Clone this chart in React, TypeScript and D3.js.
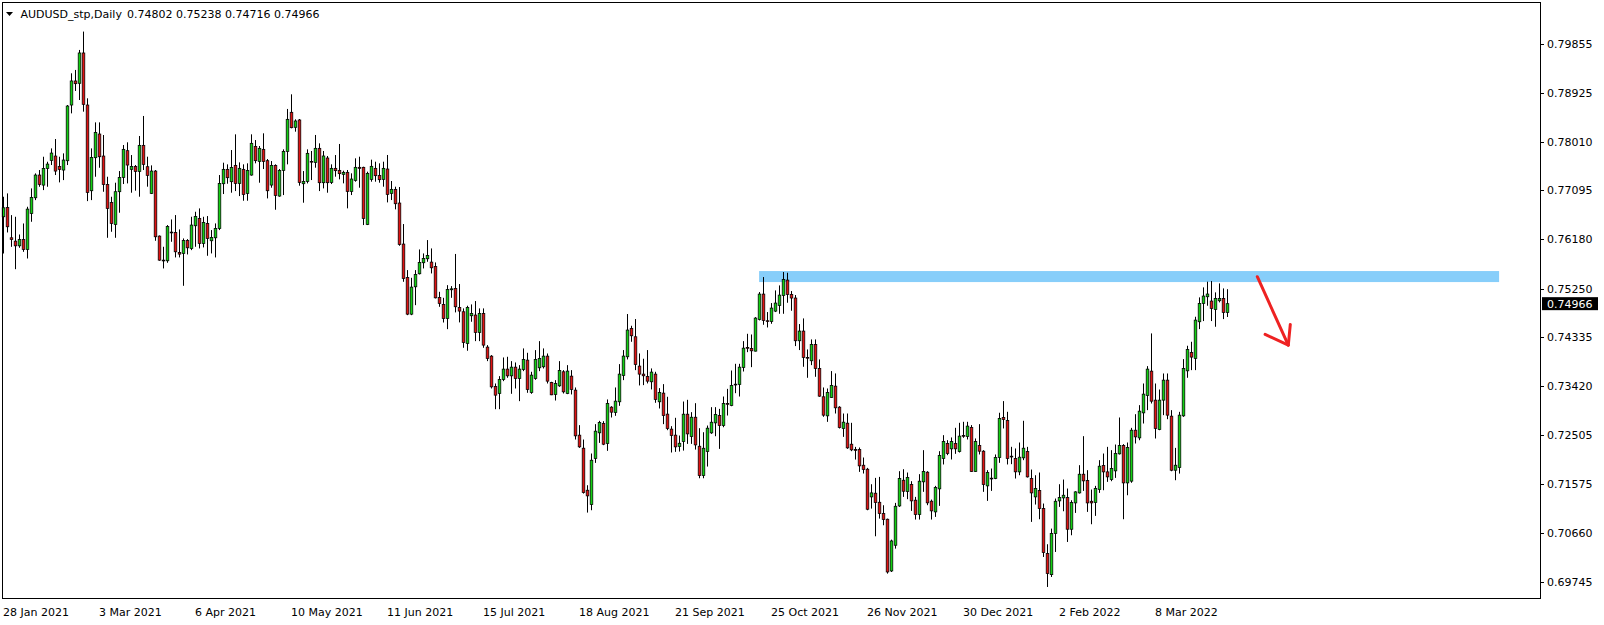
import React from "react";
import * as d3 from "d3";

// AUDUSD_stp Daily (one entry per trading day)
const opens = [
  0.76599, 0.76774, 0.76204, 0.76141, 0.76053, 0.76172, 0.75984, 0.76661, 0.76956, 0.77383,
  0.77194, 0.77508, 0.77658, 0.7774, 0.77546, 0.77477, 0.77652, 0.78699, 0.79151, 0.79107,
  0.79677, 0.78699, 0.77088, 0.77709, 0.78154, 0.7774, 0.77207, 0.76868, 0.76455, 0.7707,
  0.77339, 0.77841, 0.7749, 0.77546, 0.77452, 0.77941, 0.7754, 0.77038, 0.77458, 0.76236,
  0.75784, 0.75772, 0.76311, 0.76305, 0.75929, 0.7591, 0.76154, 0.76004, 0.7643, 0.76568,
  0.76098, 0.76474, 0.76148, 0.76204, 0.7638, 0.7722, 0.7749, 0.77258, 0.77565, 0.77226,
  0.7749, 0.77038, 0.77383, 0.77922, 0.7764, 0.77866, 0.77653, 0.77195, 0.77565, 0.76988,
  0.77471, 0.77828, 0.78562, 0.7828, 0.78418, 0.7722, 0.77264, 0.7764, 0.77621, 0.77885,
  0.77239, 0.77703, 0.77245, 0.77509, 0.77471, 0.77396, 0.77434, 0.77076, 0.77283, 0.77528,
  0.77528, 0.76456, 0.77302, 0.77509, 0.77377, 0.77302, 0.77496, 0.77039, 0.77114, 0.76857,
  0.76086, 0.75459, 0.74769, 0.75283, 0.75528, 0.75735, 0.7581, 0.75747, 0.75666, 0.75082,
  0.74951, 0.74687, 0.75227, 0.75253, 0.74896, 0.74814, 0.74219, 0.74739, 0.74752, 0.74426,
  0.74783, 0.7415, 0.7398, 0.7341, 0.73278, 0.73541, 0.73736, 0.7361, 0.73773, 0.7356,
  0.7373, 0.73905, 0.73297, 0.7356, 0.73761, 0.7378, 0.7398, 0.73485, 0.73259, 0.73422,
  0.73686, 0.73278, 0.73604, 0.73341, 0.72495, 0.7225, 0.7146, 0.71191, 0.72056, 0.72539,
  0.72714, 0.72338, 0.73021, 0.72921, 0.73122, 0.73617, 0.73968, 0.74501, 0.74344, 0.73793,
  0.73642, 0.73598, 0.73498, 0.73642, 0.73122, 0.73285, 0.7289, 0.72608, 0.72495, 0.72281,
  0.72375, 0.72889, 0.72469, 0.72832, 0.72287, 0.71735, 0.72187, 0.72538, 0.72726, 0.72864,
  0.72676, 0.7309, 0.73052, 0.73453, 0.73447, 0.73767, 0.74143, 0.74124, 0.74074, 0.7467,
  0.75146, 0.74645, 0.74632, 0.74826, 0.74933, 0.75121, 0.75409, 0.7514, 0.75072, 0.74269,
  0.74451, 0.73956, 0.73893, 0.742, 0.73749, 0.73216, 0.72858, 0.73203, 0.73416, 0.73021,
  0.7262, 0.7272, 0.72325, 0.72225, 0.72225, 0.7193, 0.71855, 0.71335, 0.71404, 0.71234,
  0.71021, 0.70915, 0.69943, 0.70426, 0.71165, 0.71648, 0.71436, 0.71567, 0.71273, 0.71003,
  0.71618, 0.71799, 0.71254, 0.71053, 0.71486, 0.72057, 0.72339, 0.72238, 0.72339, 0.72188,
  0.72489, 0.7247, 0.7264, 0.71812, 0.72301, 0.72194, 0.71542, 0.71687, 0.7168, 0.72075,
  0.72828, 0.72771, 0.721, 0.72057, 0.71805, 0.72069, 0.72188, 0.7168, 0.71335, 0.71454,
  0.71115, 0.70269, 0.69874, 0.70645, 0.7126, 0.71316, 0.71322, 0.70727, 0.71222, 0.7141,
  0.71761, 0.71642, 0.71253, 0.71228, 0.71473, 0.71924, 0.71805, 0.71661, 0.71824, 0.72144,
  0.72301, 0.71598, 0.71631, 0.72588, 0.72444, 0.72914, 0.7324, 0.73698, 0.73153, 0.72601,
  0.73153, 0.73529, 0.72852, 0.71836, 0.71886, 0.72858, 0.73704, 0.74049, 0.73936, 0.74626,
  0.74971, 0.75096, 0.75015, 0.74858, 0.75021, 0.75065, 0.74802,
];

const highs = [
  0.76975, 0.77038, 0.7663, 0.76599, 0.76266, 0.76473, 0.76787, 0.77132, 0.77414, 0.77477,
  0.77727, 0.77633, 0.77884, 0.7806, 0.77727, 0.7779, 0.78699, 0.79295, 0.79358, 0.79734,
  0.80079, 0.78825, 0.77884, 0.78373, 0.78373, 0.78135, 0.77351, 0.76975, 0.77239, 0.77458,
  0.77947, 0.77998, 0.77759, 0.77571, 0.78117, 0.78493, 0.77728, 0.77565, 0.77477, 0.76248,
  0.76035, 0.76443, 0.76549, 0.76631, 0.76361, 0.76192, 0.76179, 0.76599, 0.76693, 0.76756,
  0.76599, 0.76612, 0.76349, 0.76474, 0.77383, 0.77615, 0.77584, 0.77853, 0.78148, 0.77621,
  0.77584, 0.77603, 0.78148, 0.78041, 0.77929, 0.78167, 0.77684, 0.77646, 0.77584, 0.77496,
  0.77866, 0.78625, 0.789, 0.7843, 0.78436, 0.77458, 0.77866, 0.77835, 0.78136, 0.77979,
  0.77835, 0.77741, 0.77584, 0.77759, 0.77967, 0.77465, 0.77478, 0.77415, 0.77697, 0.77728,
  0.7754, 0.77446, 0.77672, 0.77634, 0.77603, 0.77634, 0.7776, 0.77271, 0.77164, 0.77158,
  0.76462, 0.75597, 0.75452, 0.75597, 0.75985, 0.7591, 0.76161, 0.76004, 0.75741, 0.75189,
  0.75076, 0.75314, 0.75296, 0.759, 0.75335, 0.74877, 0.74927, 0.74952, 0.75015, 0.74877,
  0.74877, 0.74187, 0.73999, 0.73466, 0.73604, 0.73955, 0.73968, 0.73886, 0.73861, 0.73811,
  0.74125, 0.74043, 0.73686, 0.74093, 0.74262, 0.74125, 0.7403, 0.73498, 0.73529, 0.73886,
  0.73717, 0.73811, 0.73717, 0.73391, 0.72683, 0.72413, 0.71554, 0.7215, 0.72702, 0.72764,
  0.72758, 0.73166, 0.7304, 0.73391, 0.7383, 0.74094, 0.74771, 0.74551, 0.74677, 0.74031,
  0.73931, 0.74094, 0.73749, 0.73686, 0.73379, 0.73454, 0.73216, 0.72664, 0.72821, 0.72488,
  0.73127, 0.73159, 0.72927, 0.73096, 0.72626, 0.7255, 0.72676, 0.73021, 0.73021, 0.72989,
  0.73221, 0.73365, 0.7371, 0.73836, 0.73836, 0.74262, 0.744, 0.74387, 0.74713, 0.75184,
  0.75466, 0.74808, 0.74977, 0.75215, 0.75309, 0.7556, 0.75547, 0.75203, 0.75128, 0.74583,
  0.74689, 0.74106, 0.74294, 0.74294, 0.73918, 0.73391, 0.73372, 0.73699, 0.73655, 0.7304,
  0.72902, 0.72902, 0.72727, 0.72275, 0.72263, 0.72075, 0.7188, 0.71573, 0.71692, 0.71711,
  0.71178, 0.70927, 0.70532, 0.71222, 0.71818, 0.71855, 0.71793, 0.7163, 0.71335, 0.71762,
  0.72213, 0.71818, 0.71285, 0.71542, 0.72194, 0.72495, 0.72401, 0.72452, 0.72633, 0.72727,
  0.72746, 0.72746, 0.72684, 0.72433, 0.72702, 0.72213, 0.71837, 0.71868, 0.72132, 0.72916,
  0.73135, 0.72934, 0.72276, 0.72245, 0.72357, 0.72765, 0.72275, 0.71849, 0.71742, 0.71793,
  0.7121, 0.70445, 0.70739, 0.71304, 0.71573, 0.71661, 0.71492, 0.71272, 0.71442, 0.71931,
  0.72476, 0.71837, 0.71473, 0.71542, 0.72025, 0.7215, 0.72275, 0.72213, 0.72319, 0.72827,
  0.72326, 0.72357, 0.72632, 0.72889, 0.73059, 0.73466, 0.73792, 0.74407, 0.73466, 0.73353,
  0.73654, 0.73654, 0.72965, 0.72256, 0.72933, 0.73924, 0.74175, 0.7425, 0.7472, 0.75084,
  0.75272, 0.75379, 0.75391, 0.75178, 0.75347, 0.75253, 0.75238,
];

const lows = [
  0.75909, 0.76304, 0.76034, 0.75614, 0.76016, 0.7594, 0.75815, 0.76505, 0.76912, 0.77163,
  0.771, 0.77163, 0.77571, 0.77383, 0.77245, 0.77288, 0.77571, 0.78542, 0.78963, 0.78793,
  0.78574, 0.76893, 0.76912, 0.77351, 0.7752, 0.77069, 0.76204, 0.76317, 0.76204, 0.76675,
  0.77214, 0.77226, 0.77051, 0.77089, 0.76976, 0.77477, 0.77164, 0.77026, 0.76148, 0.75772,
  0.75628, 0.75734, 0.76129, 0.75835, 0.75835, 0.75302, 0.75891, 0.75972, 0.76035, 0.76004,
  0.76023, 0.75866, 0.7591, 0.75835, 0.76349, 0.77026, 0.7722, 0.77051, 0.77082, 0.76988,
  0.769, 0.769, 0.77371, 0.77603, 0.77239, 0.77496, 0.76944, 0.77145, 0.76731, 0.76976,
  0.77007, 0.77584, 0.78261, 0.78198, 0.77183, 0.76863, 0.77226, 0.77289, 0.77521, 0.77082,
  0.77132, 0.77051, 0.77214, 0.77352, 0.77302, 0.77227, 0.76757, 0.77007, 0.77258, 0.77145,
  0.76443, 0.76443, 0.77258, 0.77258, 0.77239, 0.77164, 0.76869, 0.76913, 0.76738, 0.76054,
  0.75377, 0.7475, 0.7475, 0.74938, 0.75515, 0.75628, 0.75753, 0.75534, 0.75064, 0.74907,
  0.74612, 0.74487, 0.75076, 0.74802, 0.74614, 0.74137, 0.74081, 0.74626, 0.74262, 0.74262,
  0.74137, 0.73886, 0.73372, 0.72983, 0.72983, 0.7351, 0.73573, 0.73272, 0.73372, 0.73134,
  0.73698, 0.73291, 0.73272, 0.73535, 0.73698, 0.73748, 0.73466, 0.73247, 0.73146, 0.73403,
  0.73278, 0.73266, 0.7326, 0.72413, 0.72256, 0.71397, 0.7104, 0.71084, 0.71974, 0.7235,
  0.72307, 0.722, 0.72827, 0.72858, 0.73046, 0.73529, 0.73918, 0.7425, 0.73717, 0.73429,
  0.73435, 0.73467, 0.73354, 0.73103, 0.72996, 0.72702, 0.72589, 0.72169, 0.72181, 0.72187,
  0.72205, 0.72331, 0.72331, 0.72224, 0.71685, 0.71685, 0.71905, 0.72519, 0.72475, 0.72237,
  0.72644, 0.72864, 0.73039, 0.73284, 0.73221, 0.73691, 0.74055, 0.73773, 0.74068, 0.74651,
  0.74569, 0.74519, 0.74588, 0.74808, 0.74776, 0.74776, 0.74983, 0.74833, 0.74169, 0.74094,
  0.7378, 0.73573, 0.73811, 0.73592, 0.73216, 0.7284, 0.72745, 0.73197, 0.72902, 0.7262,
  0.72463, 0.72238, 0.72194, 0.72037, 0.71805, 0.71774, 0.71084, 0.71115, 0.70595, 0.70927,
  0.70802, 0.69893, 0.69924, 0.70363, 0.71147, 0.71335, 0.71292, 0.71072, 0.70909, 0.70909,
  0.7143, 0.71179, 0.70909, 0.70959, 0.71166, 0.71944, 0.72119, 0.72038, 0.72144, 0.72169,
  0.72445, 0.72414, 0.71806, 0.71806, 0.72132, 0.7143, 0.7126, 0.71448, 0.71668, 0.71975,
  0.72621, 0.71944, 0.7195, 0.7168, 0.71742, 0.72025, 0.71699, 0.70865, 0.71191, 0.70915,
  0.70206, 0.69642, 0.6983, 0.703, 0.71147, 0.71065, 0.70488, 0.70614, 0.71034, 0.71398,
  0.71448, 0.71053, 0.70821, 0.70978, 0.7141, 0.7146, 0.71617, 0.7163, 0.71692, 0.72131,
  0.70915, 0.71366, 0.716, 0.72338, 0.724, 0.72714, 0.72965, 0.7309, 0.72432, 0.72588,
  0.72871, 0.72795, 0.71817, 0.71648, 0.71773, 0.72839, 0.73573, 0.73717, 0.73717, 0.74488,
  0.74639, 0.74927, 0.74639, 0.74532, 0.7499, 0.74676, 0.74716,
];

const closes = [
  0.76768, 0.76411, 0.76172, 0.76053, 0.76172, 0.75984, 0.76743, 0.76962, 0.77383, 0.77207,
  0.77508, 0.77589, 0.77796, 0.77458, 0.77489, 0.77665, 0.7868, 0.79151, 0.791, 0.79677,
  0.78712, 0.77057, 0.77715, 0.78185, 0.77727, 0.77207, 0.76756, 0.76473, 0.7707, 0.77339,
  0.77866, 0.77571, 0.77546, 0.77452, 0.77941, 0.77584, 0.77377, 0.77458, 0.76223, 0.75784,
  0.75772, 0.76418, 0.76298, 0.75941, 0.75897, 0.76154, 0.76016, 0.76443, 0.76606, 0.76098,
  0.76493, 0.76192, 0.76211, 0.7638, 0.77226, 0.7749, 0.77333, 0.77527, 0.77226, 0.77509,
  0.77019, 0.77471, 0.77979, 0.77653, 0.77885, 0.7764, 0.77088, 0.77565, 0.77001, 0.77471,
  0.77828, 0.7843, 0.78273, 0.78399, 0.77245, 0.77264, 0.77791, 0.77628, 0.77885, 0.77239,
  0.77741, 0.77239, 0.77509, 0.77465, 0.77409, 0.77434, 0.77076, 0.77308, 0.77528, 0.77509,
  0.76568, 0.77415, 0.77547, 0.77371, 0.77296, 0.77509, 0.7702, 0.77114, 0.76844, 0.76079,
  0.7544, 0.74769, 0.75277, 0.75515, 0.75741, 0.75816, 0.75872, 0.7564, 0.75076, 0.7497,
  0.74687, 0.75233, 0.75245, 0.74908, 0.74827, 0.74237, 0.74896, 0.74783, 0.74426, 0.74783,
  0.74187, 0.73936, 0.73403, 0.73247, 0.73541, 0.73736, 0.7361, 0.73773, 0.7356, 0.73736,
  0.73918, 0.73353, 0.73623, 0.73918, 0.73936, 0.7398, 0.7351, 0.73253, 0.73466, 0.73711,
  0.73309, 0.73699, 0.73354, 0.72482, 0.72275, 0.71416, 0.71354, 0.72024, 0.7257, 0.72733,
  0.72325, 0.7309, 0.72927, 0.73134, 0.73642, 0.73981, 0.7447, 0.74363, 0.73824, 0.73642,
  0.73611, 0.7351, 0.7368, 0.73166, 0.73297, 0.72865, 0.7262, 0.72488, 0.72275, 0.72343,
  0.72889, 0.72519, 0.72832, 0.72312, 0.71735, 0.72249, 0.72626, 0.72738, 0.72883, 0.72676,
  0.7309, 0.73077, 0.73428, 0.73441, 0.73773, 0.7413, 0.7413, 0.7408, 0.74695, 0.75146,
  0.74651, 0.74632, 0.74883, 0.74977, 0.75127, 0.75422, 0.7514, 0.75072, 0.74269, 0.74451,
  0.73956, 0.73943, 0.742, 0.73749, 0.73228, 0.72871, 0.73297, 0.73429, 0.73009, 0.72639,
  0.72739, 0.72256, 0.72219, 0.72213, 0.71918, 0.71849, 0.71103, 0.7141, 0.71228, 0.71021,
  0.70908, 0.69924, 0.70507, 0.71159, 0.7168, 0.71441, 0.71699, 0.7126, 0.71003, 0.7163,
  0.71812, 0.71223, 0.71072, 0.71511, 0.72113, 0.72376, 0.72151, 0.72376, 0.72238, 0.72477,
  0.72477, 0.72665, 0.71812, 0.72376, 0.72194, 0.71567, 0.71793, 0.71674, 0.72075, 0.72809,
  0.7279, 0.72057, 0.72088, 0.71806, 0.72081, 0.7225, 0.71711, 0.7141, 0.71492, 0.71115,
  0.70288, 0.69893, 0.70645, 0.71253, 0.71322, 0.71366, 0.70727, 0.71228, 0.71429, 0.71761,
  0.71636, 0.71222, 0.71222, 0.71492, 0.71912, 0.71805, 0.71711, 0.71868, 0.7215, 0.72301,
  0.71598, 0.72263, 0.72588, 0.72463, 0.72946, 0.73266, 0.73736, 0.73134, 0.7262, 0.73153,
  0.73529, 0.72871, 0.71836, 0.7193, 0.72871, 0.73748, 0.74106, 0.73962, 0.74657, 0.74971,
  0.75109, 0.75147, 0.74877, 0.75065, 0.75065, 0.74802, 0.74966,
];

const priceTicks = [
  0.79855, 0.78925, 0.7801, 0.77095, 0.7618, 0.7525, 0.74335, 0.7342, 0.72505, 0.71575,
  0.7066, 0.69745,
];

const dateTickBars = [0, 24, 48, 72, 96, 120, 144, 168, 192, 216, 240, 264, 288];
const dateTickLabels = [
  "28 Jan 2021", "3 Mar 2021", "6 Apr 2021", "10 May 2021", "11 Jun 2021", "15 Jul 2021",
  "18 Aug 2021", "21 Sep 2021", "25 Oct 2021", "26 Nov 2021", "30 Dec 2021", "2 Feb 2022",
  "8 Mar 2022",
];

// resistance zone (bar index range, price range) and the hand drawn arrow
const zoneBars = [188.9, 373.9];
const zonePrices = [0.75579, 0.75372];
const arrowShaft = [[313.45, 0.75472], [321.2, 0.74186]];
const arrowHead = [[315.4, 0.74389], [321.2, 0.74186], [321.7, 0.74575]];

const W = 1604;
const H = 625;
const frame = { left: 2.5, top: 2.5, right: 1540.5, bottom: 598.5 };
const bullColor = "#12d012";
const bearColor = "#e01212";

export default function App() {
  const n = closes.length;
  const x = d3.scaleLinear().domain([0, n - 1]).range([3.5, 3.5 + 4 * (n - 1)]);
  const y = d3.scaleLinear().domain([0.69745, 0.79855]).range([581.5, 43.5]);

  const line = d3.line<number[]>().x((d) => x(d[0])).y((d) => y(d[1]));

  const last = n - 1;
  const lastY = y(closes[last]);
  const header = [opens[last], highs[last], lows[last], closes[last]]
    .map((v) => v.toFixed(5))
    .join(" ");

  return (
    <svg
      width={W}
      height={H}
      style={{ position: "absolute", left: 0, top: 0, background: "#fff" }}
      fontFamily="DejaVu Sans"
      fontSize={11}
    >
      <rect x={0} y={0} width={W} height={H} fill="#fff" />

      {/* zone behind the candles */}
      <rect
        x={x(zoneBars[0])}
        y={y(zonePrices[0])}
        width={x(zoneBars[1]) - x(zoneBars[0])}
        height={y(zonePrices[1]) - y(zonePrices[0])}
        fill="#87cefa"
      />

      {/* candles */}
      {closes.map((c, i) => {
        const o = opens[i];
        const cx = x(i);
        const top = y(Math.max(o, c));
        const bot = y(Math.min(o, c));
        const h = Math.max(bot - top, 0.8);
        return (
          <g key={i}>
            <line x1={cx} x2={cx} y1={y(highs[i])} y2={y(lows[i])} stroke="#000" strokeWidth={1} />
            <rect
              x={cx - 1.3}
              y={top}
              width={2.6}
              height={h}
              fill={c >= o ? bullColor : bearColor}
              stroke="#000"
              strokeWidth={0.75}
            />
          </g>
        );
      })}

      {/* arrow */}
      <g stroke="#ee2222" strokeWidth={3} fill="none" strokeLinecap="round" strokeLinejoin="round">
        <path d={line(arrowShaft) || ""} />
        <path d={line(arrowHead) || ""} />
      </g>

      {/* frame */}
      <rect
        x={frame.left}
        y={frame.top}
        width={frame.right - frame.left}
        height={frame.bottom - frame.top}
        fill="none"
        stroke="#000"
        strokeWidth={1}
      />

      {/* price axis */}
      {priceTicks.map((p) => (
        <g key={p}>
          <line x1={frame.right} x2={frame.right + 3.5} y1={Math.round(y(p)) + 0.5} y2={Math.round(y(p)) + 0.5} stroke="#000" />
          <text x={1547} y={y(p) + 4} fill="#000">{p.toFixed(5)}</text>
        </g>
      ))}
      <rect x={1542} y={lastY - 6.5} width={56} height={13} fill="#000" />
      <text x={1547} y={lastY + 4} fill="#fff">{closes[last].toFixed(5)}</text>

      {/* date axis */}
      {dateTickBars.map((b, k) => (
        <text key={b} x={x(b) - 0.5} y={616} fill="#000">{dateTickLabels[k]}</text>
      ))}

      {/* header */}
      <path d="M6,12 h7 l-3.5,4 z" fill="#000" />
      <text x={20.5} y={18} fill="#000">AUDUSD_stp,Daily</text>
      <text x={127} y={18} fill="#000">{header}</text>
    </svg>
  );
}
